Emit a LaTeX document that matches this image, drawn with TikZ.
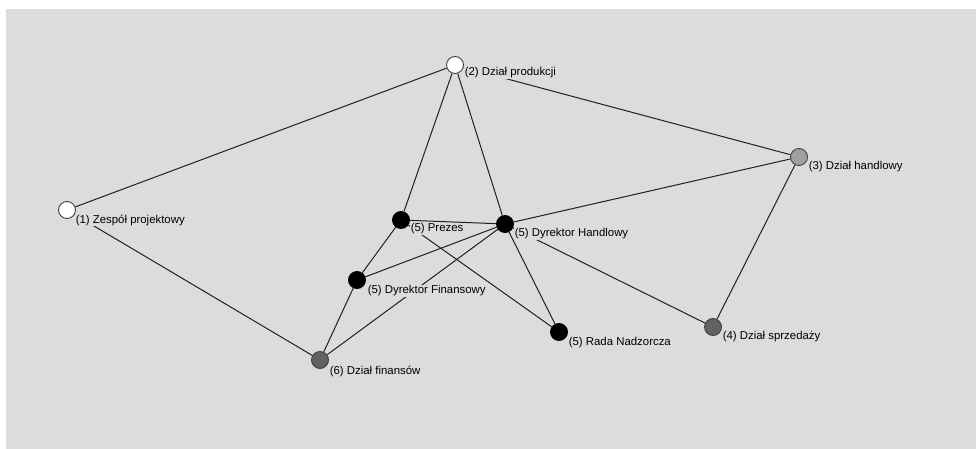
\documentclass[tikz,border=0pt]{standalone}
\usepackage{fontspec}
\setmainfont{Liberation Sans}
\definecolor{bg}{HTML}{DCDCDC}
\definecolor{edgec}{HTML}{202020}
\definecolor{ringc}{HTML}{404040}
\definecolor{lightg}{HTML}{A0A0A0}
\definecolor{darkg}{HTML}{626262}
\begin{document}
\begin{tikzpicture}[x=1pt,y=-1pt,
  vert/.style={circle,draw=ringc,line width=0.9pt,minimum size=17pt,inner sep=0pt},
  wv/.style={vert,fill=white},
  lv/.style={vert,fill=lightg},
  dv/.style={vert,fill=darkg},
  bv/.style={vert,fill=black,draw=black},
  lab/.style={anchor=west,fill=bg,inner sep=0.6pt,font=\fontsize{11.4}{12}\selectfont},
  con/.style={draw=edgec,line width=1pt}]
\useasboundingbox (0,0) rectangle (976,449);
\fill[white] (0,0) rectangle (976,449);
\fill[bg] (6,9) rectangle (976,449);
% vertices
\node[wv] (n1) at (67,210) {};
\node[wv] (n2) at (455,65) {};
\node[lv] (n3) at (799,157) {};
\node[dv] (n4) at (713,327) {};
\node[bv] (pr) at (401,220) {};
\node[bv] (dh) at (505,224) {};
\node[bv] (df) at (357,280) {};
\node[bv] (rn) at (559,332) {};
\node[dv] (n6) at (320,360) {};
% connectors
\path[con] (n1) -- (n2);
\path[con] (n1) -- (n6);
\path[con] (n2) -- (pr);
\path[con] (n2) -- (dh);
\path[con] (n2) -- (n3);
\path[con] (n3) -- (dh);
\path[con] (n3) -- (n4);
\path[con] (dh) -- (n4);
\path[con] (dh) -- (rn);
\path[con] (dh) -- (df);
\path[con] (dh) -- (n6);
\path[con] (pr) -- (dh);
\path[con] (pr) -- (df);
\path[con] (pr) -- (rn);
\path[con] (df) -- (n6);
% labels
\node[lab] (l1) at ([shift={(8,10)}]n1.center) {(1) Zespół projektowy};
\node[lab] (l2) at ([shift={(9,8)}]n2.center) {(2) Dział produkcji};
\node[lab] (l3) at ([shift={(9,10)}]n3.center) {(3) Dział handlowy};
\node[lab] (l4) at ([shift={(9,10)}]n4.center) {(4) Dział sprzedaży};
\node[lab] (lpr) at ([shift={(9,9)}]pr.center) {(5) Prezes};
\node[lab] (ldh) at ([shift={(9,10)}]dh.center) {(5) Dyrektor Handlowy};
\node[lab] (ldf) at ([shift={(10,11)}]df.center) {(5) Dyrektor Finansowy};
\node[lab] (lrn) at ([shift={(9,11)}]rn.center) {(5) Rada Nadzorcza};
\node[lab] (l6) at ([shift={(9,11)}]n6.center) {(6) Dział finansów};
\end{tikzpicture}
\end{document}
